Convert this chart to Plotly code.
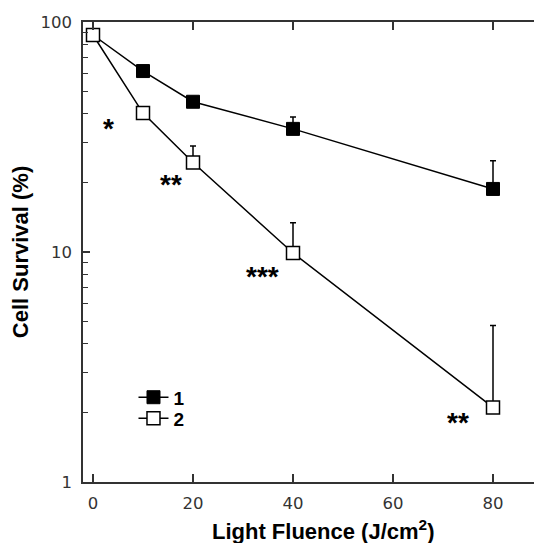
import math
import plotly.graph_objects as go

fluence = [0, 10, 20, 40, 80]
survival_1 = [87.8, 61.2, 45.0, 34.3, 18.8]
err_up_1 = [0, 0, 2.0, 4.3, 6.1]
survival_2 = [87.8, 40.2, 24.5, 9.9, 2.11]
err_up_2 = [0, 0, 4.4, 3.5, 2.68]

star_x = [3.1, 15.5, 33.8, 73.0]
star_y = [35.3, 20.1, 8.0, 1.85]
star_text = ["*", "**", "***", "**"]

x_ticks = [0, 20, 40, 60, 80]
y_ticks = [1, 10, 100]

fig = go.Figure()
fig.add_trace(go.Scatter(
    x=fluence, y=survival_1, name="<b>1</b>", mode="lines+markers", legend="legend",
    line=dict(color="black", width=1.5),
    marker=dict(symbol="square", size=13, color="black", line=dict(color="black", width=1)),
    error_y=dict(type="data", symmetric=False, array=err_up_1, arrayminus=[0]*5,
                 color="black", thickness=1.5, width=3),
))
fig.add_trace(go.Scatter(
    x=fluence, y=survival_2, name="<b>2</b>", mode="lines+markers", legend="legend2",
    line=dict(color="black", width=1.5),
    marker=dict(symbol="square", size=13, color="white", line=dict(color="black", width=1.5)),
    error_y=dict(type="data", symmetric=False, array=err_up_2, arrayminus=[0]*5,
                 color="black", thickness=1.5, width=3),
))

for sx, sy, st in zip(star_x, star_y, star_text):
    fig.add_annotation(x=sx, y=math.log10(sy), yref="y", xref="x", text="<b>" + st + "</b>",
                       showarrow=False, yshift=-2,
                       font=dict(family="Liberation Sans, Arial", size=28, color="black"))

fig.add_annotation(x=0.523, y=-0.105, xref="paper", yref="paper",
                   text="<b>Light Fluence (J/cm<sup>2</sup>)</b>", showarrow=False,
                   yanchor="middle", xanchor="center",
                   font=dict(family="Liberation Sans, Arial", size=22, color="black"))

tickfont = dict(family="DejaVu Sans", size=16.5, color="#333")
legfont = dict(family="Liberation Sans, Arial", size=19, color="black")
fig.update_layout(
    width=534, height=535,
    margin=dict(l=75, r=0, t=14, b=61, autoexpand=False),
    plot_bgcolor="white", paper_bgcolor="white",
    showlegend=True,
    legend=dict(x=0.11, y=0.184, xanchor="left", yanchor="middle",
                bgcolor="rgba(0,0,0,0)", font=legfont, itemsizing="trace"),
    legend2=dict(x=0.11, y=0.138, xanchor="left", yanchor="middle",
                 bgcolor="rgba(0,0,0,0)", font=legfont, itemsizing="trace"),
    xaxis=dict(range=[-2, 89.8], tickvals=x_ticks, ticks="inside", ticklen=8,
               tickwidth=1.5, tickcolor="#333", showline=True, linecolor="#333",
               linewidth=1.5, mirror="ticks", showgrid=False, zeroline=False,
               tickfont=tickfont, ticklabelstandoff=5, automargin=False),
    yaxis=dict(type="log", range=[0, 2], tickvals=y_ticks, ticktext=["1", "10", "100"],
               ticks="inside", ticklen=7, tickwidth=1.5, tickcolor="#333",
               showline=True, linecolor="#333", linewidth=1.5, mirror=False,
               showgrid=False, zeroline=False, tickfont=tickfont, ticklabelstandoff=6,
               automargin=False,
               minor=dict(ticks="inside", ticklen=5, tickwidth=1.2, tickcolor="#333",
                          dtick="D1", showgrid=False),
               title=dict(text="<b>Cell Survival (%)</b>", standoff=8,
                          font=dict(family="Liberation Sans, Arial", size=22, color="black"))),
    yaxis2=dict(type="log", range=[0, 2], overlaying="y", side="right",
                tickvals=y_ticks, ticks="inside", ticklen=5, tickwidth=1.2, tickcolor="#333",
                showticklabels=False, showline=False, showgrid=False, zeroline=False,
                automargin=False,
                minor=dict(ticks="inside", ticklen=5, tickwidth=1.2, tickcolor="#333",
                           dtick="D1", showgrid=False)),
)
fig.write_html("out.html")
